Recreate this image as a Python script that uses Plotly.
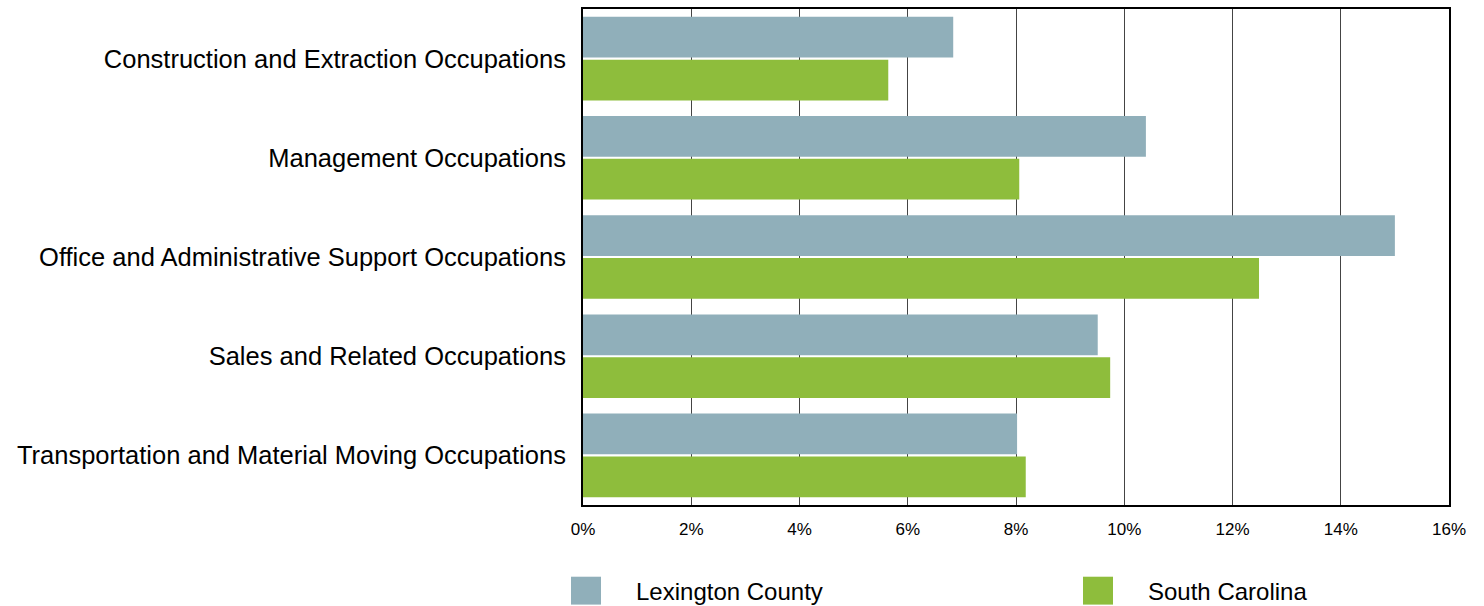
import plotly.graph_objects as go

categories = [
    "Construction and Extraction Occupations",
    "Management Occupations",
    "Office and Administrative Support Occupations",
    "Sales and Related Occupations",
    "Transportation and Material Moving Occupations",
]
series_names = ["Lexington County", "South Carolina"]
lexington = [6.84, 10.40, 15.0, 9.51, 8.02]
south_carolina = [5.64, 8.06, 12.49, 9.74, 8.18]
colors = ["#90AFBA", "#8EBD3C"]
tick_vals = [0, 2, 4, 6, 8, 10, 12, 14, 16]
tick_text = [f"{v}%" for v in tick_vals]

fig = go.Figure()
for name, vals, col in zip(series_names, [lexington, south_carolina], colors):
    fig.add_trace(go.Bar(
        y=categories, x=vals, name=name, orientation="h",
        marker=dict(color=col, line=dict(width=0)),
        showlegend=False,
    ))

font_family = "Liberation Sans, Arial, sans-serif"
L, R, T, B = 583, 1449, 7, 505
fig.update_layout(
    width=1484, height=606,
    margin=dict(l=L, r=1484 - R, t=T, b=606 - B),
    barmode="group", bargap=0.136, bargroupgap=0.05,
    plot_bgcolor="white", paper_bgcolor="white",
    font=dict(family=font_family, color="black"),
    xaxis=dict(
        range=[0, 16], tickvals=tick_vals, ticktext=tick_text,
        showgrid=True, gridcolor="#444444", gridwidth=1,
        showline=True, linecolor="black", linewidth=2, mirror=True,
        zeroline=False, ticks="", tickfont=dict(size=17, family=font_family),
        ticklabelstandoff=8,
    ),
    yaxis=dict(
        autorange="reversed", showgrid=False, ticks="",
        showline=True, linecolor="black", linewidth=2, mirror=True,
        tickfont=dict(size=25.5, family=font_family), ticklabelstandoff=10,
    ),
)

legend_x = [571, 1083]
pw, ph = R - L, B - T
for i, (name, col) in enumerate(zip(series_names, colors)):
    x0 = legend_x[i]
    fig.add_shape(type="rect", xref="paper", yref="paper",
                  x0=(x0 - L) / pw, x1=(x0 + 30 - L) / pw,
                  y0=(B - 605) / ph, y1=(B - 577) / ph,
                  fillcolor=col, line=dict(width=0))
    fig.add_annotation(xref="paper", yref="paper",
                       x=(x0 + 63 - L) / pw, y=(B - 592) / ph,
                       xanchor="left", yanchor="middle", showarrow=False,
                       text=name, font=dict(size=24, family=font_family, color="black"))

fig.write_html("out.html", config={"displayModeBar": False},
               post_script="document.body.style.margin='0';document.body.style.overflow='hidden';")
